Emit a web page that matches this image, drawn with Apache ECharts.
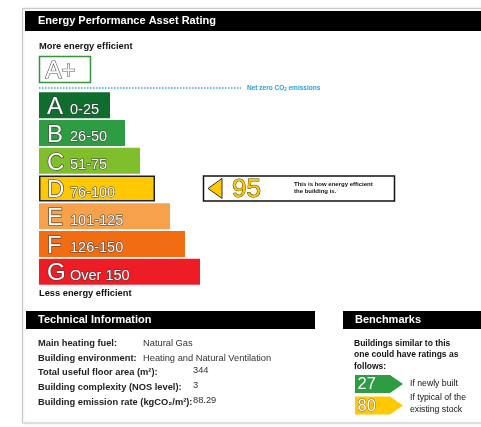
<!DOCTYPE html>
<html>
<head>
<meta charset="utf-8">
<script src="https://cdn.jsdelivr.net/npm/echarts@6/dist/echarts.min.js"></script>
<style>
  html, body { margin: 0; padding: 0; background: #fff; }
  #main { width: 481px; height: 427px; }
</style>
</head>
<body>
<div id="main"></div>
<script>
// rating bands
var bandLetters = ['A', 'B', 'C', 'D', 'E', 'F', 'G'];
var bandRanges = ['0-25', '26-50', '51-75', '76-100', '101-125', '126-150', 'Over 150'];
var bandUpper = [25, 50, 75, 100, 125, 150, 175]; // G drawn as if it stopped at 175
var bandColors = ['#0f6d2e', '#2d9c42', '#80bf2c', '#ffc800', '#f7a24b', '#f26c12', '#ee1c24'];

// this building
var rating = 95;

// benchmarks
var benchLabels = ['If newly built', 'If typical of the\nexisting stock'];
var benchValues = [27, 80];

// technical information
var techLabels = ['Main heating fuel:', 'Building environment:', 'Total useful floor area (m²):',
  'Building complexity (NOS level):', 'Building emission rate (kgCO₂/m²):'];
var techValues = ['Natural Gas', 'Heating and Natural Ventilation', '344', '3', '88.29'];

var FONT = '"Liberation Sans", Arial, sans-serif';
var AXIS_MIN = -280 / 3;

function bandOf (v) {
  for (var i = 0; i < bandUpper.length - 1; i++) {
    if (v <= bandUpper[i]) return i;
  }
  return bandUpper.length - 1;
}

var ratingBand = bandOf(rating);

var myChart = echarts.init(document.getElementById('main'));

var techX = [143, 143, 193, 193, 193];
var techY = [345, 360, 374, 389, 404];
var techGraphics = [];
techLabels.forEach(function (t, i) {
  techGraphics.push({
    type: 'text', left: 38, top: techY[i] - 6,
    style: { text: t, fill: '#222', font: 'bold 9.3px ' + FONT }
  });
  techGraphics.push({
    type: 'text', left: techX[i], top: techY[i] - 6 - (i >= 2 ? 2 : 0),
    style: { text: techValues[i], fill: '#333', font: '9.3px ' + FONT }
  });
});

myChart.setOption({
  animation: false,
  grid: [
    { left: 39, top: 91.4, width: 296, height: 194.1 },
    { left: 355, top: 373.25, width: 100, height: 43 }
  ],
  xAxis: [
    { gridIndex: 0, type: 'value', min: AXIS_MIN, max: 400, show: false },
    { gridIndex: 1, type: 'value', min: 0, max: 100, show: false }
  ],
  yAxis: [
    { gridIndex: 0, type: 'category', inverse: true, data: bandLetters, show: false },
    { gridIndex: 1, type: 'category', inverse: true, data: benchLabels, show: false }
  ],
  graphic: [
    // outer panel
    { type: 'rect', shape: { x: 22.5, y: 8.5, width: 470, height: 414.5 },
      style: { fill: '#fff', stroke: '#c9c9c9', lineWidth: 1, shadowBlur: 3, shadowColor: 'rgba(0,0,0,0.15)' }, z: -10 },
    { type: 'rect', shape: { x: 25, y: 11, width: 456, height: 20 }, style: { fill: '#000' } },
    { type: 'text', left: 38, top: 15, style: { text: 'Energy Performance Asset Rating', fill: '#fff', font: 'bold 11px ' + FONT } },
    { type: 'text', left: 39, top: 42, style: { text: 'More energy efficient', fill: '#111', font: 'bold 9.3px ' + FONT } },
    // A+ band
    { type: 'rect', shape: { x: 39.5, y: 56.5, width: 51, height: 26 }, style: { fill: '#fff', stroke: '#3c913c', lineWidth: 1.5 } },
    { type: 'text', left: 45, top: 59, style: { text: 'A+', fill: '#fff', stroke: '#555', lineWidth: 1.2, font: '24px ' + FONT } },
    { type: 'line', shape: { x1: 39, y1: 88, x2: 241, y2: 88 }, style: { stroke: '#3aa6d6', lineWidth: 1.5, lineDash: [1.5, 1.5] } },
    { type: 'text', left: 247, top: 84.5, style: {
      text: '{a|Net zero CO}{s|2}{a| emissions}',
      rich: { a: { fill: '#2a9fd6', font: 'bold 6.5px ' + FONT }, s: { fill: '#2a9fd6', font: 'bold 4.5px ' + FONT, padding: [3, 0, 0, 0] } }
    } },
    { type: 'text', left: 39, top: 289, style: { text: 'Less energy efficient', fill: '#111', font: 'bold 9.3px ' + FONT } },
    // technical info
    { type: 'rect', shape: { x: 26, y: 311, width: 289, height: 18 }, style: { fill: '#000' } },
    { type: 'text', left: 38, top: 314, style: { text: 'Technical Information', fill: '#fff', font: 'bold 11px ' + FONT } },
    // benchmarks
    { type: 'rect', shape: { x: 343, y: 311, width: 138, height: 18 }, style: { fill: '#000' } },
    { type: 'text', left: 355, top: 314, style: { text: 'Benchmarks', fill: '#fff', font: 'bold 11px ' + FONT } },
    { type: 'text', left: 354, top: 338, style: {
      text: 'Buildings similar to this\none could have ratings as\nfollows:', fill: '#111',
      font: 'bold 8.5px ' + FONT, lineHeight: 11.3 } }
  ].concat(techGraphics),
  series: [
    {
      // rating band bars, drawn from the axis start
      type: 'custom',
      xAxisIndex: 0, yAxisIndex: 0,
      data: bandUpper.map(function (v, i) { return [v, i]; }),
      renderItem: function (params, api) {
        var i = api.value(1);
        var p0 = api.coord([AXIS_MIN, i]);
        var p1 = api.coord([api.value(0), i]);
        var h = 26;
        var yc = p0[1];
        var cur = i === ratingBand;
        return {
          type: 'group',
          children: [
            { type: 'rect', shape: { x: p0[0] + (cur ? 0.75 : 0), y: yc - h / 2 + (cur ? 0.75 : 0), width: p1[0] - p0[0] - (cur ? 1.5 : 0), height: h - (cur ? 1.5 : 0) },
              style: { fill: bandColors[i], stroke: cur ? '#222' : null, lineWidth: cur ? 1.5 : 0 } },
            { type: 'text', x: p0[0] + 8, y: yc + 2.2,
              style: { text: bandLetters[i], fill: '#fff', stroke: '#3a3a3a', lineWidth: 1.2, font: '24px ' + FONT, verticalAlign: 'middle' } },
            { type: 'text', x: p0[0] + 31, y: yc + 4.5,
              style: { text: bandRanges[i], fill: '#fff', stroke: '#3a3a3a', lineWidth: 1, font: '14.5px ' + FONT, verticalAlign: 'middle' } }
          ]
        };
      }
    },
    {
      // current rating pointer
      type: 'custom',
      xAxisIndex: 0, yAxisIndex: 0,
      data: [[rating, ratingBand]],
      renderItem: function (params, api) {
        var yc = api.coord([0, api.value(1)])[1];
        var col = bandColors[api.value(1)];
        return {
          type: 'group',
          children: [
            { type: 'rect', shape: { x: 203.5, y: yc - 12.5, width: 191, height: 25 }, style: { fill: '#fff', stroke: '#111', lineWidth: 1.5 } },
            { type: 'polygon', shape: { points: [[208, yc], [222, yc - 10], [222, yc + 10]] }, style: { fill: col, stroke: '#333', lineWidth: 1 } },
            { type: 'text', x: 232, y: yc + 1, style: { text: String(api.value(0)), fill: col, stroke: '#4a3c00', lineWidth: 1, font: '26px ' + FONT, verticalAlign: 'middle' } },
            { type: 'text', x: 294, y: yc - 0.5, style: { text: 'This is how energy efficient\nthe building is.', fill: '#111', font: 'bold 6px ' + FONT, lineHeight: 7, verticalAlign: 'middle' } }
          ]
        };
      }
    },
    {
      // benchmark arrows
      type: 'custom',
      xAxisIndex: 1, yAxisIndex: 1,
      data: benchValues.map(function (v, i) { return [v, i]; }),
      renderItem: function (params, api) {
        var i = api.value(1);
        var v = api.value(0);
        var yc = api.coord([0, i])[1];
        var x0 = api.coord([0, i])[0];
        var col = bandColors[bandOf(v)];
        var h = 9;
        return {
          type: 'group',
          children: [
            { type: 'polygon', shape: { points: [[x0, yc - h], [x0 + 35, yc - h], [x0 + 48, yc], [x0 + 35, yc + h], [x0, yc + h]] }, style: { fill: col } },
            { type: 'text', x: x0 + 2.5, y: yc + 0.5, style: { text: String(v), fill: '#fff', stroke: bandOf(v) === 3 ? '#555' : 'transparent', lineWidth: 0.8, font: '16.5px ' + FONT, verticalAlign: 'middle' } },
            { type: 'text', x: x0 + 55, y: yc - (i === 1 ? 2 : 0), style: { text: benchLabels[i], fill: '#111', font: '8.7px ' + FONT, lineHeight: 11.5, verticalAlign: 'middle' } }
          ]
        };
      }
    }
  ]
});
</script>
</body>
</html>
